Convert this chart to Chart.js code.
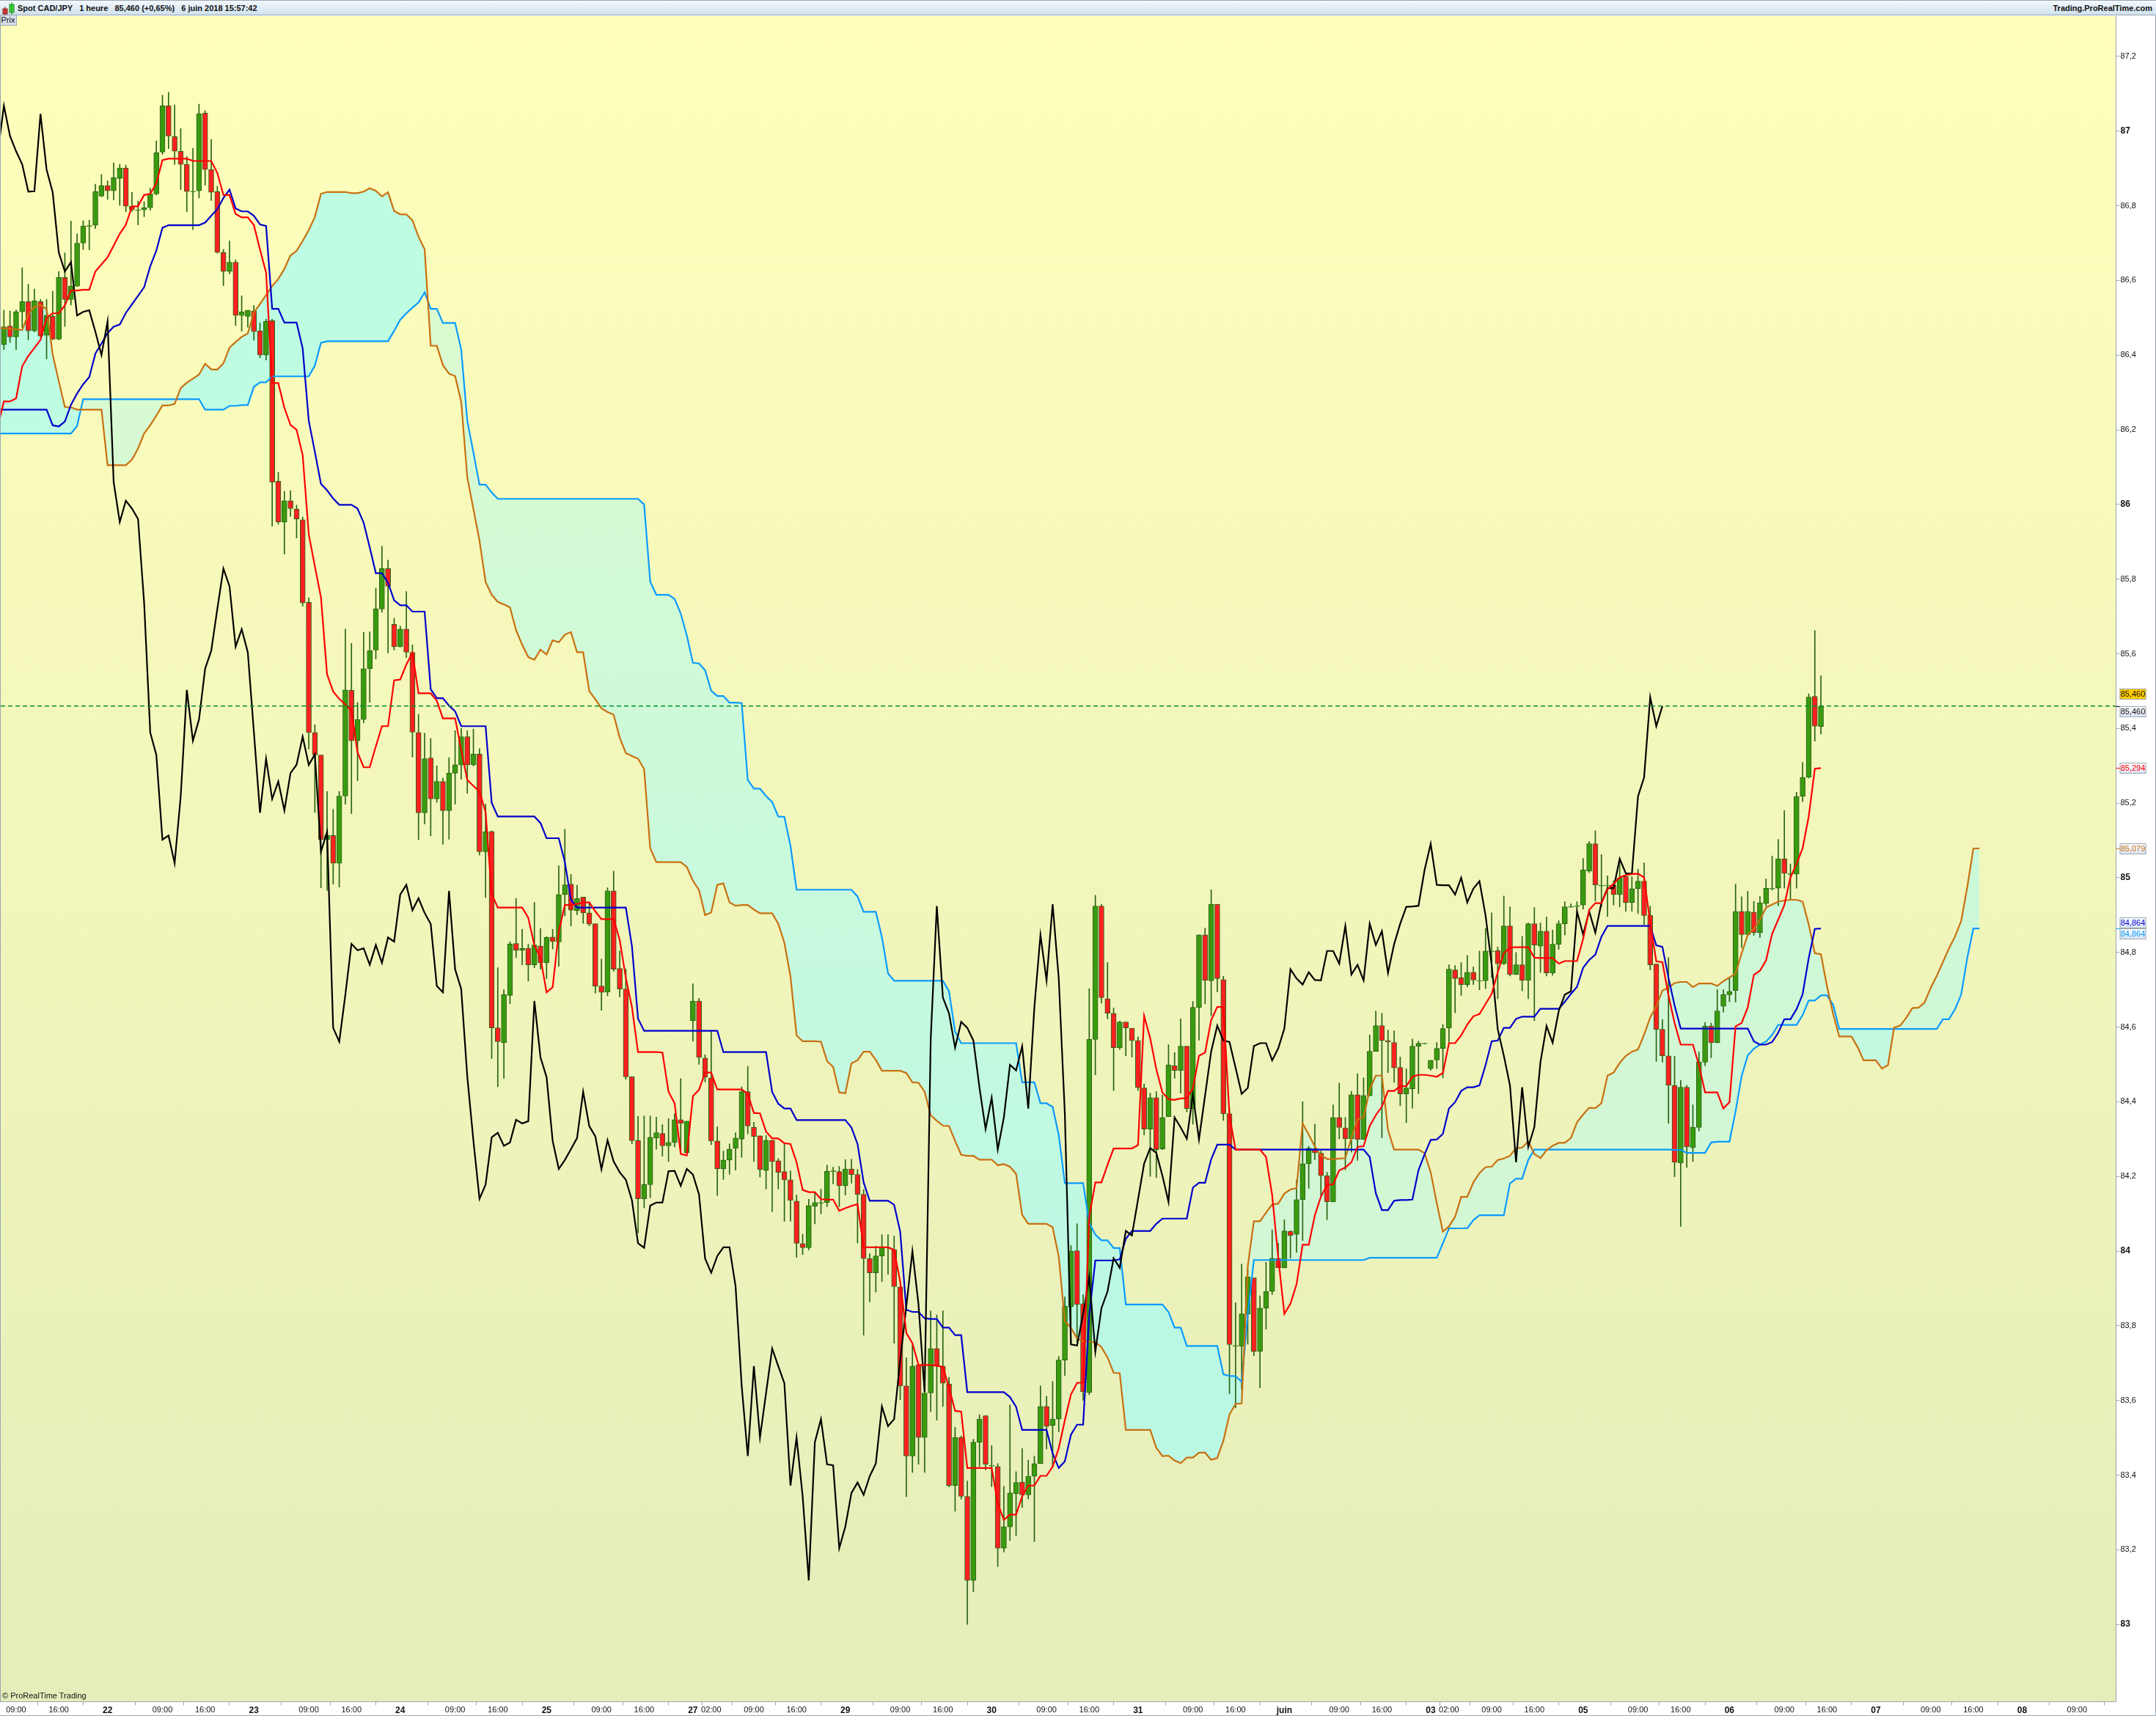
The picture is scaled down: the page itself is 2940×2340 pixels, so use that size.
<!DOCTYPE html>
<html lang="fr"><head><meta charset="utf-8"><title>Spot CAD/JPY</title>
<script src="https://cdn.jsdelivr.net/npm/chart.js@4/dist/chart.umd.min.js"></script>
<style>
html,body{margin:0;padding:0;background:#fff;width:2940px;height:2340px;overflow:hidden;font-family:"Liberation Sans",Arial,sans-serif}
#wrap{position:relative;width:2940px;height:2340px}
canvas{position:absolute;left:0;top:0}
#bar{position:absolute;left:0;top:0;width:2940px;height:21px;box-sizing:border-box;border-top:1px solid #9aa6b2;border-bottom:1px solid #9aa6b2;background:linear-gradient(#f4f9fc,#cfe1ee);font:bold 11px "Liberation Sans",Arial,sans-serif;color:#111;line-height:20px;white-space:pre}
#bar .l{position:absolute;left:24px;top:0}
#bar .r{position:absolute;right:5px;top:0}
#bar svg{position:absolute;left:2px;top:2px}
#prix{position:absolute;left:0;top:21px;width:23px;height:14px;background:#d6dfe9;border-right:1px solid #9aa6b2;border-bottom:1px solid #9aa6b2;box-sizing:border-box;font:11px "Liberation Sans",Arial,sans-serif;text-align:center;line-height:13px;color:#111}
#copy{position:absolute;left:3px;top:2306px;font:11px "Liberation Sans",Arial,sans-serif;color:#111;transform-origin:left top}
#edge{position:absolute;left:2939px;top:21px;width:1px;height:2319px;background:#9aa6b2}
#edgeb{position:absolute;left:0;top:2339px;width:2940px;height:1px;background:#9aa6b2}
#edgel{position:absolute;left:0;top:21px;width:1px;height:2300px;background:#9aa6b2}
</style></head><body>
<div id="wrap">
<canvas id="c" width="2940" height="2340"></canvas>
<div id="bar"><svg width="20" height="18"><rect x="2" y="9" width="6" height="7" fill="#e04040" stroke="#8a2020"/><line x1="5" y1="6" x2="5" y2="18" stroke="#8a2020"/><rect x="11" y="3" width="6" height="11" fill="#40e040" stroke="#208a20"/><line x1="14" y1="0" x2="14" y2="17" stroke="#208a20"/></svg><span class="l">Spot CAD/JPY   1 heure   85,460 (+0,65%)   6 juin 2018 15:57:42</span><span class="r">Trading.ProRealTime.com</span></div>
<div id="prix">Prix</div>
<div id="copy">© ProRealTime Trading</div>
<div id="edge"></div><div id="edgeb"></div><div id="edgel"></div>
</div>
<script>
const opens=[86.428,86.478,86.449,86.516,86.543,86.465,86.543,86.453,86.504,86.443,
86.608,86.549,86.585,86.700,86.745,86.748,86.826,86.854,86.840,86.873,
86.901,86.799,86.787,86.789,86.795,86.832,86.944,87.068,86.985,86.946,
86.911,86.837,86.840,87.048,86.897,86.838,86.675,86.624,86.649,86.506,
86.504,86.518,86.465,86.400,86.492,86.062,85.953,86.010,85.988,85.959,
85.738,85.389,85.329,85.102,85.113,85.039,85.219,85.502,85.367,85.424,
85.560,85.610,85.720,85.828,85.679,85.619,85.666,85.604,85.389,85.174,
85.321,85.211,85.258,85.180,85.280,85.302,85.378,85.303,85.331,85.070,
85.124,84.598,84.558,84.685,84.824,84.806,84.811,84.767,84.817,84.772,
84.841,84.828,84.955,84.983,84.912,84.948,84.906,84.877,84.710,84.694,
84.965,84.757,84.702,84.467,84.296,84.140,84.178,84.303,84.315,84.282,
84.291,84.352,84.263,84.617,84.670,84.517,84.464,84.295,84.220,84.244,
84.275,84.300,84.427,84.332,84.309,84.216,84.297,84.242,84.213,84.191,
84.134,84.020,84.009,84.120,84.128,84.130,84.213,84.213,84.175,84.220,
84.205,84.152,83.980,83.942,83.987,84.008,84.004,83.904,83.639,83.451,
83.695,83.501,83.620,83.739,83.692,83.644,83.372,83.501,83.343,83.118,
83.488,83.559,83.424,83.423,83.204,83.261,83.350,83.381,83.347,83.397,
83.431,83.584,83.533,83.550,83.708,83.851,84.001,83.859,83.621,84.567,
84.924,84.676,84.637,84.545,84.614,84.597,84.564,84.437,84.327,84.411,
84.274,84.360,84.497,84.484,84.549,84.382,84.653,84.847,84.724,84.929,
84.727,84.368,83.745,83.745,83.832,83.928,83.731,83.847,83.892,83.981,
83.955,84.053,84.045,84.138,84.234,84.274,84.262,84.202,84.132,84.358,
84.330,84.301,84.419,84.299,84.416,84.535,84.604,84.564,84.559,84.492,
84.421,84.435,84.549,84.555,84.489,84.512,84.543,84.598,84.753,84.732,
84.714,84.747,84.723,84.724,84.802,84.805,84.770,84.871,84.741,84.767,
84.725,84.877,84.817,84.857,84.745,84.822,84.877,84.921,84.923,84.927,
85.018,85.091,84.978,84.978,84.980,84.955,85.003,84.934,84.971,84.991,
84.899,84.769,84.594,84.523,84.444,84.236,84.439,84.277,84.331,84.506,
84.603,84.558,84.656,84.687,84.698,84.910,84.848,84.908,84.853,84.931,
84.970,84.972,85.051,85.009,85.010,85.218,85.269,85.486,85.405];
const closes=[86.476,86.449,86.516,86.543,86.465,86.545,86.451,86.506,86.443,86.608,
86.549,86.585,86.700,86.746,86.747,86.838,86.854,86.840,86.875,86.901,
86.799,86.789,86.789,86.795,86.832,86.942,87.068,86.987,86.946,86.911,
86.838,86.839,87.046,86.897,86.836,86.675,86.624,86.649,86.506,86.516,
86.520,86.463,86.400,86.490,86.060,85.953,86.010,85.989,85.961,85.736,
85.389,85.329,85.102,85.113,85.039,85.219,85.503,85.367,85.424,85.560,
85.608,85.720,85.828,85.781,85.619,85.666,85.604,85.390,85.174,85.319,
85.211,85.258,85.180,85.280,85.303,85.378,85.302,85.331,85.070,85.123,
84.598,84.561,84.687,84.823,84.806,84.811,84.767,84.820,84.772,84.840,
84.829,84.955,84.981,84.913,84.945,84.906,84.876,84.710,84.693,84.965,
84.755,84.702,84.467,84.296,84.140,84.178,84.305,84.317,84.282,84.291,
84.352,84.342,84.348,84.670,84.519,84.466,84.295,84.220,84.244,84.273,
84.303,84.427,84.335,84.307,84.219,84.297,84.240,84.211,84.191,84.136,
84.021,84.009,84.122,84.130,84.130,84.214,84.215,84.175,84.220,84.205,
84.152,83.980,83.942,83.987,84.010,84.010,83.905,83.639,83.451,83.692,
83.501,83.620,83.739,83.692,83.646,83.372,83.501,83.343,83.118,83.488,
83.550,83.429,83.426,83.204,83.262,83.352,83.380,83.347,83.397,83.431,
83.584,83.531,83.550,83.708,83.852,84.000,83.857,83.623,84.567,84.924,
84.679,84.637,84.545,84.614,84.598,84.564,84.438,84.327,84.411,84.272,
84.358,84.499,84.484,84.549,84.382,84.653,84.847,84.725,84.929,84.730,
84.368,83.750,83.747,83.832,83.931,83.731,83.847,83.892,83.981,83.955,
84.054,84.042,84.138,84.234,84.276,84.263,84.202,84.132,84.358,84.331,
84.301,84.419,84.299,84.417,84.535,84.604,84.564,84.560,84.491,84.421,
84.437,84.549,84.557,84.557,84.511,84.543,84.596,84.755,84.730,84.714,
84.747,84.726,84.725,84.804,84.804,84.770,84.871,84.741,84.767,84.725,
84.877,84.820,84.857,84.745,84.822,84.877,84.922,84.923,84.925,85.021,
85.091,84.981,84.980,84.980,84.955,85.000,84.934,84.971,84.991,84.899,
84.767,84.594,84.523,84.444,84.238,84.439,84.279,84.332,84.506,84.603,
84.558,84.643,84.687,84.696,84.910,84.848,84.910,84.853,84.933,84.972,
84.972,85.051,85.012,85.011,85.218,85.269,85.484,85.406,85.460];
const highs=[86.520,86.518,86.521,86.634,86.590,86.577,86.549,86.549,86.571,86.624,
86.674,86.759,86.725,86.760,86.762,86.858,86.884,86.867,86.915,86.911,
86.909,86.836,86.813,86.811,86.847,86.974,87.096,87.104,87.070,87.007,
86.932,86.954,87.072,87.055,86.978,86.852,86.683,86.706,86.655,86.559,
86.520,86.533,86.487,86.496,86.496,86.086,86.035,86.037,85.998,85.966,
85.750,85.410,85.329,85.231,85.183,85.231,85.666,85.628,85.469,85.658,
85.659,85.776,85.888,85.851,85.695,85.674,85.767,85.624,85.438,85.387,
85.373,85.300,85.267,85.322,85.394,85.400,85.394,85.398,85.346,85.197,
85.126,84.759,84.700,84.829,84.945,84.862,84.822,84.934,84.864,84.842,
84.862,85.032,85.130,85.009,84.980,84.948,84.934,84.877,84.782,84.973,
85.018,84.804,84.755,84.467,84.361,84.362,84.362,84.359,84.339,84.355,
84.368,84.462,84.348,84.716,84.677,84.526,84.588,84.333,84.268,84.287,
84.317,84.440,84.495,84.345,84.309,84.310,84.297,84.248,84.289,84.215,
84.150,84.045,84.139,84.158,84.166,84.230,84.225,84.227,84.245,84.246,
84.219,84.165,83.993,84.013,84.044,84.044,84.040,83.904,83.714,83.750,
83.695,83.640,83.840,83.829,83.840,83.662,83.528,83.505,83.384,83.496,
83.562,83.560,83.479,83.431,83.370,83.588,83.409,83.471,83.440,83.451,
83.639,83.611,83.651,83.718,83.877,84.015,84.073,83.883,84.703,84.953,
84.929,84.773,84.651,84.616,84.614,84.597,84.574,84.448,84.423,84.427,
84.418,84.553,84.532,84.622,84.549,84.669,84.847,84.865,84.968,84.929,
84.736,84.385,83.862,83.965,83.950,83.928,83.880,83.970,84.057,84.021,
84.084,84.055,84.191,84.400,84.281,84.340,84.268,84.211,84.392,84.450,
84.358,84.428,84.475,84.464,84.579,84.643,84.637,84.592,84.590,84.520,
84.488,84.568,84.562,84.557,84.511,84.559,84.607,84.767,84.765,84.773,
84.792,84.761,84.804,84.864,84.906,84.815,84.951,84.922,84.800,84.843,
84.879,84.920,84.879,84.895,84.860,84.885,84.936,84.930,84.936,85.052,
85.097,85.126,85.062,85.005,84.992,85.042,85.003,85.003,85.023,85.040,
84.924,84.769,84.620,84.786,84.522,84.457,84.444,84.392,84.533,84.613,
84.611,84.700,84.700,84.732,84.983,84.949,84.964,84.937,84.950,84.997,
85.058,85.103,85.180,85.037,85.229,85.309,85.493,85.662,85.541];
const lows=[86.415,86.434,86.415,86.474,86.441,86.462,86.449,86.390,86.441,86.441,
86.477,86.534,86.584,86.683,86.682,86.739,86.824,86.817,86.816,86.801,
86.784,86.785,86.749,86.771,86.788,86.829,86.938,86.953,86.911,86.843,
86.784,86.736,86.821,86.855,86.814,86.673,86.586,86.617,86.479,86.464,
86.475,86.440,86.393,86.387,85.942,85.947,85.867,85.968,85.910,85.728,
85.345,85.175,84.973,84.966,84.983,84.975,85.197,85.172,85.260,85.415,
85.470,85.586,85.711,85.602,85.610,85.618,85.590,85.323,85.102,85.144,
85.112,85.202,85.090,85.103,85.197,85.264,85.226,85.299,85.061,84.947,
84.516,84.440,84.463,84.662,84.786,84.767,84.723,84.759,84.755,84.730,
84.809,84.763,84.898,84.871,84.901,84.878,84.871,84.691,84.645,84.684,
84.749,84.681,84.460,84.287,84.049,84.116,84.143,84.273,84.254,84.240,
84.279,84.262,84.262,84.562,84.500,84.453,84.285,84.149,84.192,84.206,
84.217,84.251,84.314,84.240,84.198,84.166,84.106,84.166,84.080,84.080,
83.983,83.991,84.003,84.073,84.100,84.119,84.180,84.119,84.150,84.182,
84.022,83.775,83.864,83.890,83.918,83.938,83.753,83.602,83.342,83.407,
83.429,83.407,83.570,83.547,83.584,83.368,83.303,83.336,83.000,83.088,
83.423,83.414,83.369,83.155,83.194,83.225,83.238,83.313,83.336,83.222,
83.431,83.470,83.421,83.516,83.667,83.750,83.755,83.600,83.615,84.472,
84.664,84.622,84.430,84.540,84.523,84.520,84.430,84.311,84.200,84.197,
84.272,84.360,84.463,84.423,84.373,84.340,84.565,84.662,84.631,84.694,
84.350,83.618,83.580,83.631,83.751,83.720,83.634,83.791,83.884,83.955,
83.955,83.981,83.997,84.028,84.168,84.245,84.150,84.084,84.132,84.301,
84.218,84.265,84.243,84.299,84.416,84.535,84.303,84.478,84.452,84.389,
84.344,84.383,84.422,84.555,84.484,84.489,84.464,84.559,84.638,84.685,
84.708,84.714,84.700,84.703,84.733,84.676,84.767,84.737,84.741,84.697,
84.676,84.617,84.746,84.737,84.739,84.808,84.847,84.921,84.916,84.916,
85.014,84.937,84.922,84.896,84.927,84.922,84.910,84.910,84.904,84.875,
84.753,84.508,84.506,84.342,84.199,84.066,84.224,84.240,84.322,84.496,
84.518,84.558,84.640,84.668,84.667,84.813,84.846,84.846,84.840,84.924,
84.967,84.925,84.972,84.940,84.972,85.204,85.267,85.366,85.385];
const tenkan=[86.209,86.276,86.276,86.284,86.370,86.398,86.419,86.441,86.500,86.512,86.512,
86.533,86.573,86.573,86.575,86.575,86.624,86.643,86.662,86.693,86.725,
86.749,86.798,86.799,86.829,86.832,86.860,86.922,86.926,86.926,86.926,
86.926,86.920,86.920,86.920,86.920,86.888,86.829,86.829,86.778,86.769,
86.769,86.748,86.683,86.621,86.325,86.325,86.259,86.213,86.200,86.132,
85.920,85.834,85.751,85.545,85.499,85.479,85.464,85.448,85.336,85.296,
85.296,85.352,85.406,85.406,85.529,85.531,85.571,85.603,85.494,85.494,
85.494,85.474,85.427,85.427,85.427,85.343,85.262,85.246,85.231,85.176,
84.957,84.920,84.920,84.920,84.920,84.920,84.893,84.819,84.786,84.693,
84.707,84.856,84.927,84.927,84.930,84.934,84.934,84.910,84.889,84.889,
84.889,84.833,84.732,84.654,84.533,84.533,84.533,84.533,84.532,84.427,
84.396,84.260,84.256,84.415,84.432,84.478,84.478,84.433,84.433,84.433,
84.433,84.433,84.421,84.370,84.369,84.320,84.302,84.302,84.289,84.287,
84.238,84.164,84.158,84.158,84.139,84.138,84.138,84.108,84.115,84.121,
84.126,84.010,84.010,84.010,84.010,84.010,84.003,83.917,83.781,83.753,
83.695,83.695,83.695,83.693,83.690,83.635,83.572,83.570,83.419,83.419,
83.419,83.419,83.419,83.324,83.280,83.294,83.294,83.343,83.372,83.372,
83.398,83.398,83.423,83.472,83.547,83.616,83.647,83.648,84.092,84.184,
84.184,84.231,84.275,84.275,84.275,84.275,84.284,84.630,84.570,84.487,
84.425,84.407,84.405,84.409,84.410,84.436,84.523,84.532,84.619,84.654,
84.654,84.362,84.272,84.272,84.272,84.272,84.272,84.252,84.150,83.983,
83.832,83.859,83.911,84.017,84.017,84.096,84.146,84.177,84.179,84.216,
84.224,84.238,84.279,84.281,84.335,84.364,84.387,84.429,84.429,84.442,
84.442,84.467,84.472,84.472,84.470,84.467,84.477,84.557,84.557,84.578,
84.607,84.629,84.635,84.662,84.689,84.747,84.798,84.813,84.814,84.814,
84.814,84.786,84.785,84.785,84.785,84.770,84.777,84.777,84.777,84.836,
84.914,84.932,84.932,84.969,84.984,85.001,85.007,85.010,85.011,85.001,
84.879,84.776,84.774,84.685,84.611,84.553,84.553,84.553,84.498,84.425,
84.425,84.425,84.382,84.399,84.602,84.611,84.653,84.740,84.751,84.779,
84.850,84.888,84.927,85.001,85.037,85.079,85.164,85.292,85.294];
const kijun=[86.254,86.254,86.254,86.254,86.254,86.254,86.254,86.254,86.254,86.212,86.209,
86.222,86.267,86.297,86.322,86.341,86.404,86.431,86.459,86.476,86.482,
86.513,86.536,86.559,86.582,86.638,86.680,86.741,86.748,86.748,86.748,
86.748,86.748,86.748,86.755,86.773,86.791,86.821,86.843,86.793,86.785,
86.785,86.773,86.750,86.746,86.524,86.524,86.487,86.487,86.487,86.418,
86.224,86.141,86.055,86.038,86.016,85.999,85.999,85.999,85.989,85.951,
85.885,85.816,85.816,85.790,85.743,85.730,85.730,85.713,85.713,85.713,
85.505,85.481,85.481,85.461,85.446,85.406,85.406,85.406,85.406,85.406,
85.201,85.164,85.164,85.164,85.164,85.164,85.164,85.164,85.147,85.106,
85.106,85.106,85.042,84.941,84.920,84.920,84.920,84.920,84.920,84.920,
84.920,84.920,84.920,84.817,84.623,84.590,84.590,84.590,84.590,84.590,
84.590,84.590,84.590,84.590,84.590,84.590,84.590,84.590,84.533,84.533,
84.533,84.533,84.533,84.533,84.533,84.533,84.426,84.395,84.382,84.382,
84.351,84.351,84.351,84.351,84.351,84.351,84.351,84.351,84.351,84.331,
84.287,84.184,84.135,84.135,84.135,84.135,84.124,84.052,83.843,83.837,
83.837,83.820,83.818,83.818,83.795,83.795,83.775,83.775,83.622,83.622,
83.622,83.622,83.622,83.622,83.622,83.609,83.583,83.521,83.521,83.521,
83.521,83.521,83.458,83.419,83.437,83.508,83.535,83.535,83.829,83.975,
83.975,83.975,83.975,83.978,84.033,84.054,84.054,84.054,84.054,84.073,
84.087,84.087,84.087,84.087,84.087,84.170,84.183,84.183,84.246,84.285,
84.285,84.285,84.272,84.272,84.272,84.272,84.272,84.272,84.272,84.272,
84.272,84.272,84.272,84.272,84.272,84.272,84.272,84.272,84.272,84.272,
84.272,84.272,84.272,84.272,84.252,84.155,84.110,84.110,84.135,84.137,
84.137,84.138,84.217,84.259,84.298,84.299,84.314,84.382,84.399,84.429,
84.439,84.439,84.444,84.498,84.562,84.564,84.598,84.598,84.622,84.628,
84.628,84.628,84.649,84.649,84.649,84.649,84.668,84.689,84.708,84.759,
84.780,84.794,84.842,84.871,84.871,84.871,84.871,84.871,84.871,84.871,
84.871,84.819,84.815,84.732,84.658,84.596,84.596,84.596,84.596,84.596,
84.596,84.596,84.596,84.596,84.596,84.596,84.596,84.562,84.553,84.553,
84.560,84.585,84.621,84.621,84.648,84.688,84.785,84.863,84.864];
const spanA=[86.472,86.472,86.471,86.469,86.467,86.510,86.529,86.534,86.523,86.402,86.330,
86.261,86.260,86.254,86.254,86.254,86.254,86.254,86.105,86.105,86.105,
86.105,86.120,86.150,86.190,86.212,86.238,
86.265,86.265,86.269,86.312,86.326,86.337,86.348,86.377,86.362,86.361,
86.378,86.420,86.435,86.449,86.458,86.514,86.537,86.561,86.585,86.604,
86.631,86.667,86.679,86.706,86.735,86.770,86.832,86.837,86.837,86.837,
86.837,86.834,86.834,86.838,86.847,86.840,86.825,86.836,86.786,86.777,
86.777,86.761,86.717,86.684,86.425,86.425,86.373,86.350,86.344,86.275,
86.072,85.988,85.903,85.792,85.758,85.739,85.732,85.724,85.663,85.624,
85.591,85.584,85.611,85.598,85.636,85.631,85.651,85.658,85.604,85.604,
85.500,85.478,85.454,85.444,85.437,85.375,85.334,85.326,85.319,85.291,
85.079,85.042,85.042,85.042,85.042,85.042,85.029,84.992,84.967,84.900,
84.907,84.981,84.985,84.934,84.925,84.927,84.927,84.915,84.905,84.905,
84.905,84.877,84.826,84.736,84.578,84.562,84.562,84.562,84.561,84.509,
84.493,84.425,84.423,84.503,84.511,84.534,84.534,84.512,84.483,84.483,
84.483,84.483,84.477,84.452,84.451,84.427,84.364,84.349,84.336,84.335,
84.295,84.258,84.255,84.255,84.245,84.245,84.245,84.230,84.233,84.226,
84.207,84.097,84.073,84.073,84.073,84.073,84.064,83.985,83.812,83.795,
83.766,83.758,83.757,83.756,83.743,83.715,83.674,83.673,83.521,83.521,
83.521,83.521,83.521,83.473,83.451,83.452,83.439,83.432,83.447,83.447,
83.460,83.460,83.441,83.446,83.492,83.562,83.591,83.592,83.960,84.080,
84.080,84.103,84.125,84.127,84.154,84.165,84.169,84.342,84.312,84.280,
84.256,84.247,84.246,84.248,84.249,84.303,84.353,84.358,84.433,84.470,
84.470,84.324,84.272,84.272,84.272,84.272,84.272,84.262,84.211,84.128,
84.052,84.066,84.092,84.145,84.145,84.184,84.209,84.225,84.226,84.244,
84.248,84.255,84.276,84.277,84.294,84.260,84.249,84.270,84.282,84.290,
84.290,84.303,84.345,84.366,84.384,84.383,84.396,84.470,84.478,84.504,
84.523,84.534,84.540,84.580,84.626,84.656,84.698,84.706,84.718,84.721,
84.721,84.707,84.717,84.717,84.717,84.710,84.723,84.733,84.743,84.798,
84.847,84.863,84.887,84.920,84.928,84.936,84.939,84.941,84.941,84.936,
84.875,84.798,84.795,84.709,84.635,84.575,84.575,84.575,84.547,84.511,
84.511,84.511,84.489,84.498,84.599,84.604,84.625,84.651,84.652,84.666,
84.705,84.737,84.774,84.811,84.843,84.884,84.975,85.078,85.079];
const spanB=[86.190,86.190,86.190,86.190,86.190,86.190,86.190,86.190,86.190,86.190,86.190,
86.190,86.190,86.210,86.282,86.282,86.282,86.282,86.282,86.282,86.282,
86.282,86.282,86.282,86.282,86.282,86.282,86.282,86.282,86.282,86.282,
86.282,86.282,86.282,86.254,86.254,86.254,86.254,86.264,86.264,86.266,
86.266,86.315,86.327,86.327,86.343,86.343,86.343,86.343,86.343,86.343,
86.343,86.372,86.433,86.437,86.437,86.437,86.437,86.437,86.437,86.437,
86.437,86.437,86.437,86.437,86.465,86.495,86.512,86.527,86.541,86.568,
86.524,86.524,86.486,86.486,86.486,86.415,86.224,86.139,86.053,86.053,
86.032,86.015,86.015,86.015,86.015,86.015,86.015,86.015,86.015,86.015,
86.015,86.015,86.015,86.015,86.015,86.015,86.015,86.015,86.015,86.015,
86.015,86.015,86.015,86.015,86.015,86.000,85.793,85.758,85.758,85.758,
85.747,85.708,85.649,85.576,85.574,85.556,85.501,85.487,85.487,85.469,
85.469,85.468,85.262,85.239,85.239,85.219,85.203,85.164,85.163,85.086,
84.968,84.968,84.968,84.968,84.968,84.968,84.968,84.968,84.968,84.968,
84.950,84.909,84.909,84.909,84.841,84.744,84.724,84.724,84.724,84.724,
84.724,84.724,84.724,84.724,84.724,84.696,84.588,84.557,84.557,84.557,
84.557,84.557,84.557,84.557,84.557,84.557,84.557,84.452,84.452,84.452,
84.396,84.396,84.386,84.311,84.182,84.182,84.182,84.182,84.075,84.044,
84.029,84.029,84.008,84.008,83.857,83.857,83.857,83.857,83.857,83.857,
83.857,83.837,83.795,83.795,83.746,83.746,83.746,83.746,83.746,83.746,
83.670,83.666,83.665,83.650,83.830,83.976,83.976,83.976,83.976,83.976,
83.976,83.976,83.976,83.976,83.976,83.976,83.976,83.976,83.976,83.976,
83.976,83.976,83.976,83.976,83.982,83.982,83.982,83.982,83.982,83.982,
83.982,83.982,83.982,83.982,83.982,83.982,84.021,84.061,84.061,84.061,
84.061,84.083,84.096,84.096,84.096,84.096,84.096,84.181,84.194,84.194,
84.244,84.272,84.272,84.272,84.272,84.272,84.272,84.272,84.272,84.272,
84.272,84.272,84.272,84.272,84.272,84.272,84.272,84.272,84.272,84.272,
84.272,84.272,84.272,84.272,84.271,84.271,84.263,84.263,84.263,84.263,
84.291,84.293,84.293,84.293,84.374,84.469,84.524,84.542,84.553,84.561,
84.579,84.606,84.606,84.606,84.606,84.632,84.671,84.671,84.685,84.685,
84.660,84.595,84.595,84.595,84.595,84.595,84.595,84.595,84.595,84.595,
84.595,84.595,84.595,84.595,84.595,84.595,84.595,84.595,84.621,84.621,
84.648,84.687,84.785,84.864,84.864];
const lastPrice=85.460;
const priceTicks=[83,83.2,83.4,83.6,83.8,84,84.2,84.4,84.6,84.8,85,85.2,85.4,85.6,85.8,86,86.2,86.4,86.6,86.8,87,87.2];
const timeTickBars=[2,9,17,26,33,41,50,57,65,74,81,89,98,105,113,116,123,130,138,147,154,162,171,178,186,195,202,210,219,226,234,237,244,251,259,268,275,283,292,299,307,316,323,331,340];
const timeTickLabels=["09:00","16:00","22","09:00","16:00","23","09:00","16:00","24","09:00","16:00","25","09:00","16:00","27","02:00","09:00","16:00","29","09:00","16:00","30","09:00","16:00","31","09:00","16:00","juin","09:00","16:00","03","02:00","09:00","16:00","05","09:00","16:00","06","09:00","16:00","07","09:00","16:00","08","09:00"];

// The indicator lists begin one bar before the first candle (off the left edge of the plot).
const pts=a=>a.map((y,i)=>({x:i-1,y}));
const UP='#3a9a10',DOWN='#ff2020',EDGE='#2a6412';
const canvas=document.getElementById('c');
const ctx=canvas.getContext('2d');
const gradAbove=ctx.createLinearGradient(0,22,0,2320);
gradAbove.addColorStop(0,'rgb(190,253,226)');gradAbove.addColorStop(.3,'rgb(190,253,226)');gradAbove.addColorStop(.62,'rgb(210,247,212)');gradAbove.addColorStop(1,'rgb(212,246,210)');
const gradBelow=ctx.createLinearGradient(0,22,0,2320);
gradBelow.addColorStop(0,'rgb(218,250,208)');gradBelow.addColorStop(.2,'rgb(218,250,208)');gradBelow.addColorStop(.43,'rgb(205,250,218)');gradBelow.addColorStop(.77,'rgb(187,248,228)');gradBelow.addColorStop(1,'rgb(187,248,228)');
const line=(label,data,color,order,extra)=>Object.assign({type:'line',label,data:pts(data),borderColor:color,borderWidth:2.2,pointRadius:0,tension:0,fill:false,order,spanGaps:false},extra||{});
const X_MIN=-0.52,X_MAX=346.4,Y_MIN=82.793,Y_MAX=87.308;

const paint={id:'paint',
 beforeDraw(ch){const {left,right,top,bottom}=ch.chartArea;const c=ch.ctx;const g=c.createLinearGradient(0,top,0,bottom);g.addColorStop(0,'rgb(255,255,187)');g.addColorStop(1,'rgb(229,237,186)');c.save();c.fillStyle=g;c.fillRect(left,top,right-left,bottom-top);c.restore();},
 afterDraw(ch){const c=ch.ctx,y=ch.scales.y,R=ch.chartArea.right;
  const last=a=>a[a.length-1];
  const tag=(val,top,color,bg)=>{const h=15,x=R+5,w=36;
   c.save();
   let fill=bg;if(!fill){fill=c.createLinearGradient(0,top,0,top+h);fill.addColorStop(0,'#ffffff');fill.addColorStop(1,'#d9e2f2');}
   c.fillStyle=fill;c.fillRect(x,top,w,h);c.strokeStyle='#9aa6b2';c.lineWidth=1;c.strokeRect(x+.5,top+.5,w-1,h-1);
   c.fillStyle=color;c.font='11px "Liberation Sans",Arial,sans-serif';c.textAlign='center';c.textBaseline='middle';
   c.fillText(val.toFixed(3).replace('.',','),x+w/2,top+h/2+.5);c.restore();};
  const mark=(val,color)=>{const p=Math.round(y.getPixelForValue(val))+.5;c.save();c.strokeStyle=color;c.lineWidth=1;c.beginPath();c.moveTo(R,p);c.lineTo(R+5,p);c.stroke();c.restore();};
  const pL=y.getPixelForValue(lastPrice);
  tag(lastPrice,Math.round(pL)-24,'#111','#ffcc00');
  tag(lastPrice,Math.round(pL),'#111');mark(lastPrice,'#000');
  const pT=y.getPixelForValue(last(tenkan));tag(last(tenkan),Math.round(pT)-7,'#ff0000');mark(last(tenkan),'#ff0000');
  const pA=y.getPixelForValue(last(spanA));tag(last(spanA),Math.round(pA)-7,'#c87010');mark(last(spanA),'#c87010');
  const pK=y.getPixelForValue(last(kijun));tag(last(kijun),Math.round(pK)-15,'#0000dd');tag(last(spanB),Math.round(pK),'#0a9bff');mark(last(spanB),'#0a9bff');
 }};

new Chart(canvas,{
 data:{datasets:[
  line('Senkou A',spanA,'#c87010',3,{fill:{target:1,above:gradAbove,below:gradBelow}}),
  line('Senkou B',spanB,'#0a9bff',3),
  {type:'bar',label:'Mèches',data:highs.map((h,i)=>({x:i,y:[lows[i],h]})),backgroundColor:EDGE,barThickness:1,grouped:false,order:6,borderWidth:0},
  {type:'bar',label:'Bougies',data:opens.map((o,i)=>({x:i,y:[o,closes[i]]})),backgroundColor:opens.map((o,i)=>closes[i]>=o?UP:DOWN),borderColor:EDGE,borderWidth:1,borderSkipped:false,barThickness:7,grouped:false,order:5},
  line('Chikou',closes.slice(25),'#000000',2),
  line('Kijun',kijun,'#0000cc',2),
  line('Tenkan',tenkan,'#ff0000',1),
  {type:'line',label:'Dernier',data:[{x:X_MIN,y:lastPrice},{x:X_MAX,y:lastPrice}],borderColor:'#008f2e',borderWidth:1.6,borderDash:[6,4],pointRadius:0,fill:false,order:0}
 ]},
 options:{responsive:false,animation:false,devicePixelRatio:1,
  layout:{padding:{top:22,left:1,right:0,bottom:0}},
  plugins:{legend:{display:false},tooltip:{enabled:false},filler:{drawTime:'beforeDatasetsDraw',propagate:false}},
  scales:{
   x:{type:'linear',min:X_MIN,max:X_MAX,offset:false,position:'bottom',
    grid:{drawOnChartArea:false,drawTicks:true,tickLength:5,color:'#9aa6b2'},border:{color:'#9aa6b2'},
    afterBuildTicks:s=>{s.ticks=timeTickBars.map(value=>({value}));},
    afterFit:s=>{s.height=19.5;},
    ticks:{autoSkip:false,maxRotation:0,minRotation:0,padding:0,color:'#111',
     callback:v=>timeTickLabels[timeTickBars.indexOf(v)],
     font:c=>{const bold=!/:/.test(timeTickLabels[timeTickBars.indexOf(c.tick&&c.tick.value)]||':');return {family:'"Liberation Sans",Arial,sans-serif',size:bold?12:11,weight:bold?'bold':'normal'};}}},
   y:{type:'linear',min:Y_MIN,max:Y_MAX,position:'right',
    grid:{drawOnChartArea:false,drawTicks:true,tickLength:5,color:'#9aa6b2'},border:{color:'#9aa6b2'},
    afterBuildTicks:s=>{s.ticks=priceTicks.map(value=>({value}));},
    afterFit:s=>{s.width=54.5;},
    ticks:{autoSkip:false,padding:1,color:'#111',
     callback:v=>(Number.isInteger(v)?String(v):v.toFixed(1)).replace('.',','),
     font:c=>{const bold=!!(c.tick&&Number.isInteger(c.tick.value));return {family:'"Liberation Sans",Arial,sans-serif',size:bold?12:11,weight:bold?'bold':'normal'};}}}
  }},
 plugins:[paint]
});
</script>
</body></html>
